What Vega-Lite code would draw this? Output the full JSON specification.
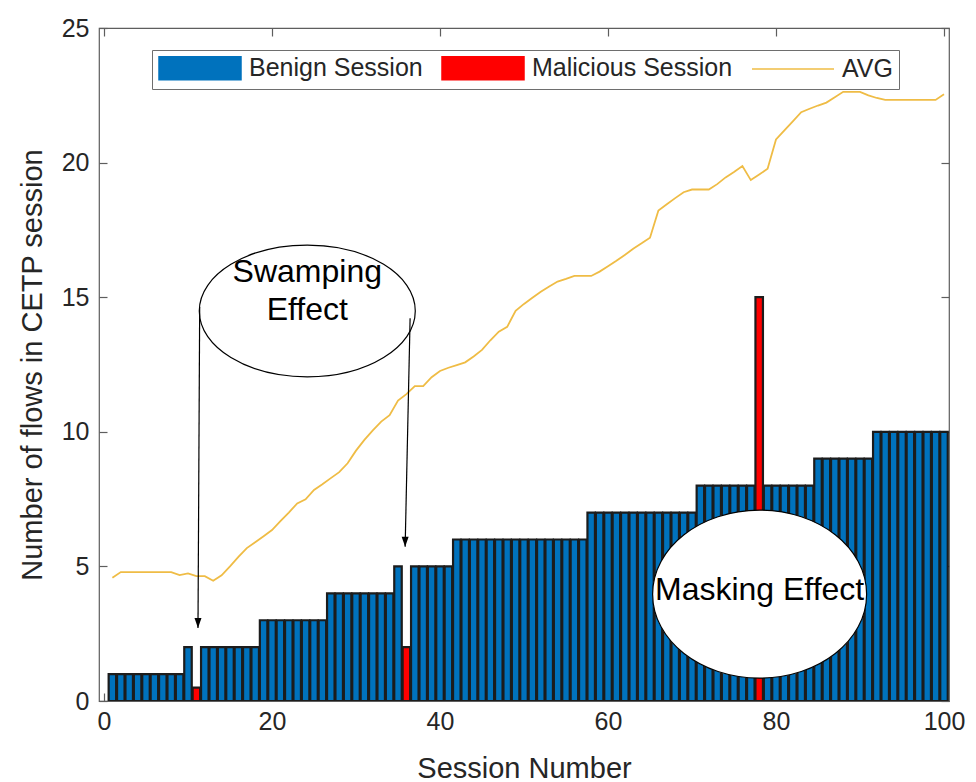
{
  "$schema": "https://vega.github.io/schema/vega-lite/v6.json",
  "width": 850,
  "height": 673,
  "autosize": {"type": "none"},
  "padding": {"left": 99, "top": 28, "right": 27, "bottom": 81},
  "background": "white",
  "config": {
    "view": {"stroke": "#5e5e5e", "strokeWidth": 1.2},
    "font": "Liberation Sans",
    "axis": {
      "domain": false,
      "grid": false,
      "tickColor": "#5e5e5e",
      "tickWidth": 1.2,
      "tickSize": -8,
      "labelFont": "Liberation Sans",
      "labelFontSize": 25,
      "labelColor": "#262626",
      "titleFont": "Liberation Sans",
      "titleFontSize": 29,
      "titleFontWeight": "normal",
      "titleColor": "#262626"
    },
    "legend": {
      "orient": "none", "legendX": 53, "legendY": 22,
      "direction": "horizontal", "columns": 3,
      "labelFont": "Liberation Sans", "labelFontSize": 25, "labelColor": "#262626", "labelLimit": 400,
      "symbolSize": 6724, "symbolStrokeWidth": 1.5, "labelOffset": 7, "columnPadding": 16, "padding": 6,
      "strokeColor": "#6e6e6e", "fillColor": "white"
    }
  },
  "datasets": {
    "sessions": [
      {"session": 1, "flows": 1, "type": "Benign Session"},
      {"session": 2, "flows": 1, "type": "Benign Session"},
      {"session": 3, "flows": 1, "type": "Benign Session"},
      {"session": 4, "flows": 1, "type": "Benign Session"},
      {"session": 5, "flows": 1, "type": "Benign Session"},
      {"session": 6, "flows": 1, "type": "Benign Session"},
      {"session": 7, "flows": 1, "type": "Benign Session"},
      {"session": 8, "flows": 1, "type": "Benign Session"},
      {"session": 9, "flows": 1, "type": "Benign Session"},
      {"session": 10, "flows": 2, "type": "Benign Session"},
      {"session": 11, "flows": 0.5, "type": "Malicious Session"},
      {"session": 12, "flows": 2, "type": "Benign Session"},
      {"session": 13, "flows": 2, "type": "Benign Session"},
      {"session": 14, "flows": 2, "type": "Benign Session"},
      {"session": 15, "flows": 2, "type": "Benign Session"},
      {"session": 16, "flows": 2, "type": "Benign Session"},
      {"session": 17, "flows": 2, "type": "Benign Session"},
      {"session": 18, "flows": 2, "type": "Benign Session"},
      {"session": 19, "flows": 3, "type": "Benign Session"},
      {"session": 20, "flows": 3, "type": "Benign Session"},
      {"session": 21, "flows": 3, "type": "Benign Session"},
      {"session": 22, "flows": 3, "type": "Benign Session"},
      {"session": 23, "flows": 3, "type": "Benign Session"},
      {"session": 24, "flows": 3, "type": "Benign Session"},
      {"session": 25, "flows": 3, "type": "Benign Session"},
      {"session": 26, "flows": 3, "type": "Benign Session"},
      {"session": 27, "flows": 4, "type": "Benign Session"},
      {"session": 28, "flows": 4, "type": "Benign Session"},
      {"session": 29, "flows": 4, "type": "Benign Session"},
      {"session": 30, "flows": 4, "type": "Benign Session"},
      {"session": 31, "flows": 4, "type": "Benign Session"},
      {"session": 32, "flows": 4, "type": "Benign Session"},
      {"session": 33, "flows": 4, "type": "Benign Session"},
      {"session": 34, "flows": 4, "type": "Benign Session"},
      {"session": 35, "flows": 5, "type": "Benign Session"},
      {"session": 36, "flows": 2, "type": "Malicious Session"},
      {"session": 37, "flows": 5, "type": "Benign Session"},
      {"session": 38, "flows": 5, "type": "Benign Session"},
      {"session": 39, "flows": 5, "type": "Benign Session"},
      {"session": 40, "flows": 5, "type": "Benign Session"},
      {"session": 41, "flows": 5, "type": "Benign Session"},
      {"session": 42, "flows": 6, "type": "Benign Session"},
      {"session": 43, "flows": 6, "type": "Benign Session"},
      {"session": 44, "flows": 6, "type": "Benign Session"},
      {"session": 45, "flows": 6, "type": "Benign Session"},
      {"session": 46, "flows": 6, "type": "Benign Session"},
      {"session": 47, "flows": 6, "type": "Benign Session"},
      {"session": 48, "flows": 6, "type": "Benign Session"},
      {"session": 49, "flows": 6, "type": "Benign Session"},
      {"session": 50, "flows": 6, "type": "Benign Session"},
      {"session": 51, "flows": 6, "type": "Benign Session"},
      {"session": 52, "flows": 6, "type": "Benign Session"},
      {"session": 53, "flows": 6, "type": "Benign Session"},
      {"session": 54, "flows": 6, "type": "Benign Session"},
      {"session": 55, "flows": 6, "type": "Benign Session"},
      {"session": 56, "flows": 6, "type": "Benign Session"},
      {"session": 57, "flows": 6, "type": "Benign Session"},
      {"session": 58, "flows": 7, "type": "Benign Session"},
      {"session": 59, "flows": 7, "type": "Benign Session"},
      {"session": 60, "flows": 7, "type": "Benign Session"},
      {"session": 61, "flows": 7, "type": "Benign Session"},
      {"session": 62, "flows": 7, "type": "Benign Session"},
      {"session": 63, "flows": 7, "type": "Benign Session"},
      {"session": 64, "flows": 7, "type": "Benign Session"},
      {"session": 65, "flows": 7, "type": "Benign Session"},
      {"session": 66, "flows": 7, "type": "Benign Session"},
      {"session": 67, "flows": 7, "type": "Benign Session"},
      {"session": 68, "flows": 7, "type": "Benign Session"},
      {"session": 69, "flows": 7, "type": "Benign Session"},
      {"session": 70, "flows": 7, "type": "Benign Session"},
      {"session": 71, "flows": 8, "type": "Benign Session"},
      {"session": 72, "flows": 8, "type": "Benign Session"},
      {"session": 73, "flows": 8, "type": "Benign Session"},
      {"session": 74, "flows": 8, "type": "Benign Session"},
      {"session": 75, "flows": 8, "type": "Benign Session"},
      {"session": 76, "flows": 8, "type": "Benign Session"},
      {"session": 77, "flows": 8, "type": "Benign Session"},
      {"session": 78, "flows": 15, "type": "Malicious Session"},
      {"session": 79, "flows": 8, "type": "Benign Session"},
      {"session": 80, "flows": 8, "type": "Benign Session"},
      {"session": 81, "flows": 8, "type": "Benign Session"},
      {"session": 82, "flows": 8, "type": "Benign Session"},
      {"session": 83, "flows": 8, "type": "Benign Session"},
      {"session": 84, "flows": 8, "type": "Benign Session"},
      {"session": 85, "flows": 9, "type": "Benign Session"},
      {"session": 86, "flows": 9, "type": "Benign Session"},
      {"session": 87, "flows": 9, "type": "Benign Session"},
      {"session": 88, "flows": 9, "type": "Benign Session"},
      {"session": 89, "flows": 9, "type": "Benign Session"},
      {"session": 90, "flows": 9, "type": "Benign Session"},
      {"session": 91, "flows": 9, "type": "Benign Session"},
      {"session": 92, "flows": 10, "type": "Benign Session"},
      {"session": 93, "flows": 10, "type": "Benign Session"},
      {"session": 94, "flows": 10, "type": "Benign Session"},
      {"session": 95, "flows": 10, "type": "Benign Session"},
      {"session": 96, "flows": 10, "type": "Benign Session"},
      {"session": 97, "flows": 10, "type": "Benign Session"},
      {"session": 98, "flows": 10, "type": "Benign Session"},
      {"session": 99, "flows": 10, "type": "Benign Session"},
      {"session": 100, "flows": 10, "type": "Benign Session"}
    ],
    "avg": [
      {"session": 1, "avg": 4.58, "type": "AVG"},
      {"session": 2, "avg": 4.79, "type": "AVG"},
      {"session": 3, "avg": 4.79, "type": "AVG"},
      {"session": 4, "avg": 4.79, "type": "AVG"},
      {"session": 5, "avg": 4.79, "type": "AVG"},
      {"session": 6, "avg": 4.79, "type": "AVG"},
      {"session": 7, "avg": 4.79, "type": "AVG"},
      {"session": 8, "avg": 4.79, "type": "AVG"},
      {"session": 9, "avg": 4.68, "type": "AVG"},
      {"session": 10, "avg": 4.74, "type": "AVG"},
      {"session": 11, "avg": 4.64, "type": "AVG"},
      {"session": 12, "avg": 4.64, "type": "AVG"},
      {"session": 13, "avg": 4.47, "type": "AVG"},
      {"session": 14, "avg": 4.67, "type": "AVG"},
      {"session": 15, "avg": 5.0, "type": "AVG"},
      {"session": 16, "avg": 5.35, "type": "AVG"},
      {"session": 17, "avg": 5.68, "type": "AVG"},
      {"session": 18, "avg": 5.9, "type": "AVG"},
      {"session": 19, "avg": 6.12, "type": "AVG"},
      {"session": 20, "avg": 6.35, "type": "AVG"},
      {"session": 21, "avg": 6.68, "type": "AVG"},
      {"session": 22, "avg": 7.0, "type": "AVG"},
      {"session": 23, "avg": 7.34, "type": "AVG"},
      {"session": 24, "avg": 7.49, "type": "AVG"},
      {"session": 25, "avg": 7.84, "type": "AVG"},
      {"session": 26, "avg": 8.05, "type": "AVG"},
      {"session": 27, "avg": 8.28, "type": "AVG"},
      {"session": 28, "avg": 8.5, "type": "AVG"},
      {"session": 29, "avg": 8.83, "type": "AVG"},
      {"session": 30, "avg": 9.3, "type": "AVG"},
      {"session": 31, "avg": 9.7, "type": "AVG"},
      {"session": 32, "avg": 10.05, "type": "AVG"},
      {"session": 33, "avg": 10.38, "type": "AVG"},
      {"session": 34, "avg": 10.62, "type": "AVG"},
      {"session": 35, "avg": 11.16, "type": "AVG"},
      {"session": 36, "avg": 11.4, "type": "AVG"},
      {"session": 37, "avg": 11.7, "type": "AVG"},
      {"session": 38, "avg": 11.7, "type": "AVG"},
      {"session": 39, "avg": 12.03, "type": "AVG"},
      {"session": 40, "avg": 12.26, "type": "AVG"},
      {"session": 41, "avg": 12.38, "type": "AVG"},
      {"session": 42, "avg": 12.48, "type": "AVG"},
      {"session": 43, "avg": 12.58, "type": "AVG"},
      {"session": 44, "avg": 12.8, "type": "AVG"},
      {"session": 45, "avg": 13.04, "type": "AVG"},
      {"session": 46, "avg": 13.4, "type": "AVG"},
      {"session": 47, "avg": 13.72, "type": "AVG"},
      {"session": 48, "avg": 13.9, "type": "AVG"},
      {"session": 49, "avg": 14.49, "type": "AVG"},
      {"session": 50, "avg": 14.75, "type": "AVG"},
      {"session": 51, "avg": 14.98, "type": "AVG"},
      {"session": 52, "avg": 15.2, "type": "AVG"},
      {"session": 53, "avg": 15.4, "type": "AVG"},
      {"session": 54, "avg": 15.58, "type": "AVG"},
      {"session": 55, "avg": 15.68, "type": "AVG"},
      {"session": 56, "avg": 15.79, "type": "AVG"},
      {"session": 57, "avg": 15.79, "type": "AVG"},
      {"session": 58, "avg": 15.79, "type": "AVG"},
      {"session": 59, "avg": 15.95, "type": "AVG"},
      {"session": 60, "avg": 16.15, "type": "AVG"},
      {"session": 61, "avg": 16.35, "type": "AVG"},
      {"session": 62, "avg": 16.57, "type": "AVG"},
      {"session": 63, "avg": 16.8, "type": "AVG"},
      {"session": 64, "avg": 17.0, "type": "AVG"},
      {"session": 65, "avg": 17.21, "type": "AVG"},
      {"session": 66, "avg": 18.22, "type": "AVG"},
      {"session": 67, "avg": 18.45, "type": "AVG"},
      {"session": 68, "avg": 18.68, "type": "AVG"},
      {"session": 69, "avg": 18.9, "type": "AVG"},
      {"session": 70, "avg": 19.0, "type": "AVG"},
      {"session": 71, "avg": 19.0, "type": "AVG"},
      {"session": 72, "avg": 19.0, "type": "AVG"},
      {"session": 73, "avg": 19.2, "type": "AVG"},
      {"session": 74, "avg": 19.45, "type": "AVG"},
      {"session": 75, "avg": 19.65, "type": "AVG"},
      {"session": 76, "avg": 19.87, "type": "AVG"},
      {"session": 77, "avg": 19.35, "type": "AVG"},
      {"session": 78, "avg": 19.56, "type": "AVG"},
      {"session": 79, "avg": 19.77, "type": "AVG"},
      {"session": 80, "avg": 20.86, "type": "AVG"},
      {"session": 81, "avg": 21.2, "type": "AVG"},
      {"session": 82, "avg": 21.53, "type": "AVG"},
      {"session": 83, "avg": 21.87, "type": "AVG"},
      {"session": 84, "avg": 22.0, "type": "AVG"},
      {"session": 85, "avg": 22.12, "type": "AVG"},
      {"session": 86, "avg": 22.23, "type": "AVG"},
      {"session": 87, "avg": 22.43, "type": "AVG"},
      {"session": 88, "avg": 22.63, "type": "AVG"},
      {"session": 89, "avg": 22.63, "type": "AVG"},
      {"session": 90, "avg": 22.63, "type": "AVG"},
      {"session": 91, "avg": 22.5, "type": "AVG"},
      {"session": 92, "avg": 22.4, "type": "AVG"},
      {"session": 93, "avg": 22.33, "type": "AVG"},
      {"session": 94, "avg": 22.33, "type": "AVG"},
      {"session": 95, "avg": 22.33, "type": "AVG"},
      {"session": 96, "avg": 22.33, "type": "AVG"},
      {"session": 97, "avg": 22.33, "type": "AVG"},
      {"session": 98, "avg": 22.33, "type": "AVG"},
      {"session": 99, "avg": 22.33, "type": "AVG"},
      {"session": 100, "avg": 22.54, "type": "AVG"}
    ],
    "arrows": [
      {"session": 11.39, "flows": 14.64, "tipSession": 11.19, "tipFlows": 2.71},
      {"session": 36.44, "flows": 14.22, "tipSession": 35.85, "tipFlows": 5.73}
    ],
    "swamping": [
      {"session": 24.2, "flows": 14.49, "textFlows": 15.94, "label": "Swamping\nEffect"}
    ],
    "masking": [
      {"session": 78.05, "flows": 3.97, "textFlows": 4.12, "label": "Masking Effect"}
    ]
  },
  "resolve": {"axis": {"x": "independent", "y": "independent"}},
  "layer": [
    {
      "data": {"name": "sessions"},
      "mark": {"type": "bar", "size": 7.5, "stroke": "#1c1c1c", "strokeWidth": 2.2, "clip": true, "opacity": 1},
      "encoding": {
        "x": {
          "field": "session", "type": "quantitative",
          "scale": {"domain": [0, 100], "nice": false},
          "axis": {"orient": "bottom", "values": [0, 20, 40, 60, 80, 100], "title": "Session Number", "labelPadding": 16, "titlePadding": 20}
        },
        "y": {
          "field": "flows", "type": "quantitative",
          "scale": {"domain": [0, 25], "nice": false},
          "axis": {"orient": "left", "values": [0, 5, 10, 15, 20, 25], "title": "Number of flows in CETP session", "labelPadding": 18, "titlePadding": 14}
        },
        "color": {
          "field": "type", "type": "nominal",
          "scale": {"domain": ["Benign Session", "Malicious Session", "AVG"], "range": ["#0072BD", "#FF0000", "#EFBC45"]},
          "legend": {
            "title": null,
            "encode": {
              "symbols": {
                "update": {
                  "shape": {"signal": "datum.value === 'AVG' ? 'stroke' : 'M-1,-0.28H1V0.28H-1Z'"},
                  "fill": {"signal": "datum.value === 'AVG' ? 'transparent' : scale('color', datum.value)"},
                  "stroke": {"signal": "datum.value === 'AVG' ? scale('color', datum.value) : '#1c1c1c'"},
                  "size": {"value": 6724},
                  "strokeWidth": {"value": 1.5},
                  "y": {"value": 12},
                  "opacity": {"value": 1}
                }
              },
              "labels": {"update": {"y": {"value": 12}}}
            }
          }
        }
      }
    },
    {
      "data": {"name": "avg"},
      "mark": {"type": "line", "strokeWidth": 1.8, "clip": true},
      "encoding": {
        "x": {
          "field": "session", "type": "quantitative",
          "scale": {"domain": [0, 100], "nice": false},
          "axis": {"orient": "top", "values": [0, 20, 40, 60, 80, 100], "labels": false, "title": null}
        },
        "y": {
          "field": "avg", "type": "quantitative",
          "scale": {"domain": [0, 25], "nice": false},
          "axis": {"orient": "right", "values": [0, 5, 10, 15, 20, 25], "labels": false, "title": null}
        },
        "color": {
          "field": "type", "type": "nominal",
          "legend": {
            "title": null,
            "encode": {
              "symbols": {
                "update": {
                  "shape": {"signal": "datum.value === 'AVG' ? 'stroke' : 'M-1,-0.28H1V0.28H-1Z'"},
                  "fill": {"signal": "datum.value === 'AVG' ? 'transparent' : scale('color', datum.value)"},
                  "stroke": {"signal": "datum.value === 'AVG' ? scale('color', datum.value) : '#1c1c1c'"},
                  "size": {"value": 6724},
                  "strokeWidth": {"value": 1.5},
                  "y": {"value": 12},
                  "opacity": {"value": 1}
                }
              },
              "labels": {"update": {"y": {"value": 12}}}
            }
          }
        }
      }
    },
    {
      "data": {"name": "swamping"},
      "mark": {"type": "point", "shape": "M-1,0A1,0.61,0,1,0,1,0A1,0.61,0,1,0,-1,0Z", "size": 46656, "filled": true, "fill": "white", "stroke": "#000000", "strokeWidth": 1.2, "opacity": 1},
      "encoding": {
        "x": {"field": "session", "type": "quantitative", "axis": null},
        "y": {"field": "flows", "type": "quantitative", "axis": null}
      }
    },
    {
      "data": {"name": "swamping"},
      "mark": {"type": "text", "fontSize": 32, "font": "Liberation Sans", "color": "#000000", "lineBreak": "\n", "lineHeight": 38, "align": "center", "baseline": "middle"},
      "encoding": {
        "x": {"field": "session", "type": "quantitative", "axis": null},
        "y": {"field": "textFlows", "type": "quantitative", "axis": null},
        "text": {"field": "label"}
      }
    },
    {
      "data": {"name": "masking"},
      "mark": {"type": "point", "shape": "M-1,0A1,0.785,0,1,0,1,0A1,0.785,0,1,0,-1,0Z", "size": 45796, "filled": true, "fill": "white", "stroke": "#000000", "strokeWidth": 1.2, "opacity": 1},
      "encoding": {
        "x": {"field": "session", "type": "quantitative", "axis": null},
        "y": {"field": "flows", "type": "quantitative", "axis": null}
      }
    },
    {
      "data": {"name": "masking"},
      "mark": {"type": "text", "fontSize": 32, "font": "Liberation Sans", "color": "#000000", "align": "center", "baseline": "middle"},
      "encoding": {
        "x": {"field": "session", "type": "quantitative", "axis": null},
        "y": {"field": "textFlows", "type": "quantitative", "axis": null},
        "text": {"field": "label"}
      }
    },
    {
      "data": {"name": "arrows"},
      "mark": {"type": "rule", "color": "#000000", "strokeWidth": 1.2},
      "encoding": {
        "x": {"field": "session", "type": "quantitative", "axis": null},
        "y": {"field": "flows", "type": "quantitative", "axis": null},
        "x2": {"field": "tipSession"},
        "y2": {"field": "tipFlows"}
      }
    },
    {
      "data": {"name": "arrows"},
      "mark": {"type": "point", "shape": "M-0.35,-1L0.35,-1L0,0Z", "size": 400, "filled": true, "fill": "#000000", "stroke": null, "opacity": 1},
      "encoding": {
        "x": {"field": "tipSession", "type": "quantitative", "axis": null},
        "y": {"field": "tipFlows", "type": "quantitative", "axis": null}
      }
    }
  ]
}
